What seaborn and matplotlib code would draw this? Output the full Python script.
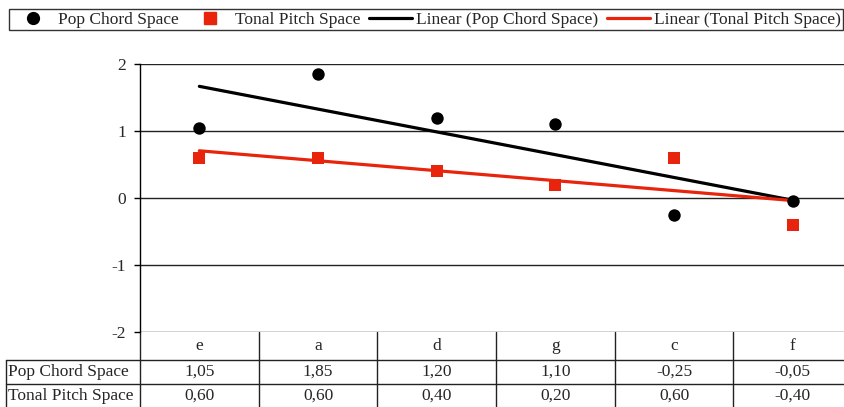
import numpy as np
import pandas as pd
import matplotlib
matplotlib.use("Agg")
import matplotlib.pyplot as plt
from matplotlib.lines import Line2D
import seaborn as sns

categories = ["e", "a", "d", "g", "c", "f"]
pop_chord = [1.05, 1.85, 1.20, 1.10, -0.25, -0.05]
tonal_pitch = [0.60, 0.60, 0.40, 0.20, 0.60, -0.40]
series_names = ["Pop Chord Space", "Tonal Pitch Space"]
y_ticks = [-2, -1, 0, 1, 2]

BLACK = "#000000"
RED = "#E8240C"

sns.set_theme(style="white")
plt.rcParams["font.family"] = ["Liberation Serif", "DejaVu Serif"]
FS = 12.5

x = np.arange(1, len(categories) + 1)
df = pd.DataFrame({"x": x, "pop": pop_chord, "tonal": tonal_pitch})

fig = plt.figure(figsize=(8.45, 4.07), dpi=100)
W, H = 845, 407
ax = fig.add_axes([140 / W, (H - 332) / H, 712 / W, 268 / H])

sns.regplot(data=df, x="x", y="pop", scatter=False, ci=None, ax=ax,
            line_kws=dict(color=BLACK, lw=2.3))
sns.regplot(data=df, x="x", y="tonal", scatter=False, ci=None, ax=ax,
            line_kws=dict(color=RED, lw=2.3))
sns.scatterplot(data=df, x="x", y="pop", ax=ax, marker="o", color=BLACK,
                s=80, edgecolor=BLACK, linewidth=0, zorder=5)
sns.scatterplot(data=df, x="x", y="tonal", ax=ax, marker="s", color=RED,
                s=68, edgecolor=RED, linewidth=0, zorder=5)

ax.set_xlim(0.5, len(categories) + 0.5)
ax.set_ylim(-2, 2)
ax.set_yticks(y_ticks)
ax.set_yticklabels([str(t) for t in y_ticks], fontsize=FS)
ax.set_xticks([])
ax.set_xlabel("")
ax.set_ylabel("")
ax.yaxis.grid(True, color="#222222", lw=1)
ax.tick_params(axis="y", left=True, length=4, width=1, color=BLACK, pad=6)
for s in ["top", "right", "bottom"]:
    ax.spines[s].set_visible(False)
ax.spines["left"].set_color(BLACK)
ax.spines["left"].set_linewidth(1)

# Data table below the plot
px = 1 / 268
xt = ax.get_xaxis_transform()
row_lines = [-28 * px, -52 * px]
bottom = -76 * px
lab_left = (6 - 140) / 712
lc = "#222222"
ax.plot([0, 0], [0, bottom], transform=ax.transAxes, color=lc, lw=1, clip_on=False)
for b in np.arange(1.5, len(categories), 1.0):
    ax.plot([b, b], [0, bottom], transform=xt, color=lc, lw=1, clip_on=False)
for yl in row_lines:
    ax.plot([lab_left, 1], [yl, yl], transform=ax.transAxes, color=lc, lw=1, clip_on=False)
ax.plot([lab_left, lab_left], [row_lines[0], bottom], transform=ax.transAxes,
        color=lc, lw=1, clip_on=False)

cy = [-14 * px, -40 * px, -64 * px]
for xi, c in zip(x, categories):
    ax.text(xi, cy[0], c, transform=xt, ha="center", va="center", fontsize=FS)
for row, (name, vals) in enumerate(zip(series_names, [pop_chord, tonal_pitch])):
    ax.text(lab_left + 2 / 712, cy[row + 1], name, transform=ax.transAxes,
            ha="left", va="center", fontsize=FS)
    for xi, v in zip(x, vals):
        ax.text(xi, cy[row + 1], f"{v:.2f}".replace(".", ","), transform=xt,
                ha="center", va="center", fontsize=FS)

handles = [
    Line2D([], [], ls="", marker="o", color=BLACK, markersize=8.5),
    Line2D([], [], ls="", marker="s", color=RED, markersize=8),
    Line2D([], [], color=BLACK, lw=2.3),
    Line2D([], [], color=RED, lw=2.3),
]
labels = ["Pop Chord Space", "Tonal Pitch Space",
          "Linear (Pop Chord Space)", "Linear (Tonal Pitch Space)"]
leg = fig.legend(handles, labels, loc="upper left",
                 bbox_to_anchor=(9 / W, 1 - 34 / H, 834 / W, 25 / H), mode="expand",
                 ncol=4, frameon=True, fancybox=False, fontsize=FS,
                 handlelength=2.5, handletextpad=0.2, columnspacing=0.5,
                 borderpad=0.15, borderaxespad=0)
leg.get_frame().set_edgecolor(BLACK)
leg.get_frame().set_linewidth(1)

fig.savefig("out.png", dpi=100)
